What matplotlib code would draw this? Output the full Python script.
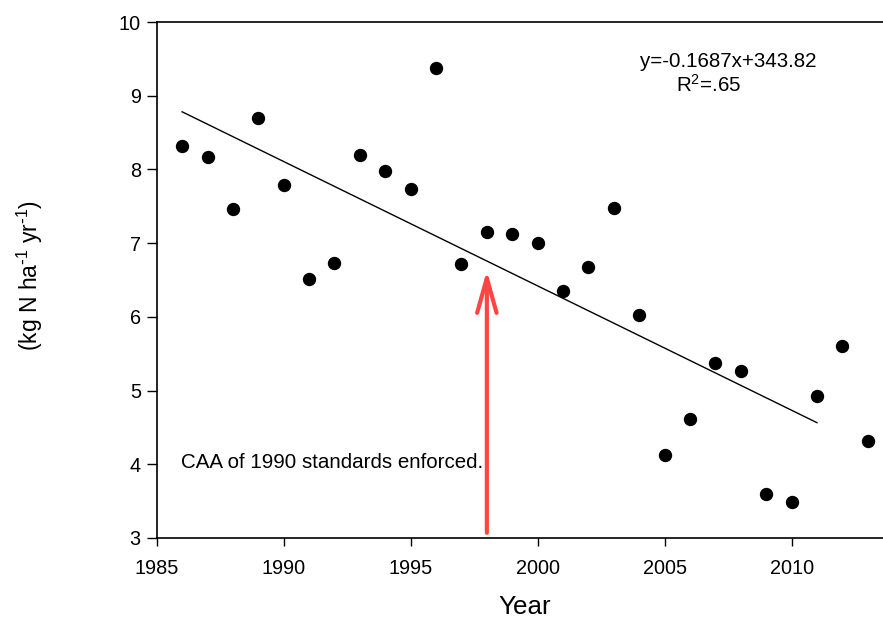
import numpy as np
import matplotlib.pyplot as plt

plt.rcParams['font.family'] = ['Liberation Sans', 'DejaVu Sans']
plt.rcParams['mathtext.default'] = 'regular'

years = np.arange(1986, 2014)
deposition = [8.32, 8.17, 7.46, 8.70, 7.79, 6.51, 6.73, 8.20, 7.98, 7.74,
              9.38, 6.72, 7.15, 7.13, 7.00, 6.35, 6.67, 7.48, 6.02, 4.12,
              4.62, 5.37, 5.26, 3.59, 3.49, 4.92, 5.61, 4.31]

# linear fit reported on the chart
slope = -0.1687
intercept = 343.82
fit_start, fit_end = 1986, 2011
enforced_year = 1998

fig = plt.figure(figsize=(8.83, 6.2), dpi=100)
ax = fig.add_axes([0.1775, 0.1323, 0.8225, 0.8322])

ax.plot(years, deposition, 'o', color='black', markersize=8.6, zorder=3)

fx = np.array([fit_start, fit_end])
ax.plot(fx, slope * fx + intercept, color='black', lw=1.0)

ax.annotate('', xy=(enforced_year, 6.63), xytext=(enforced_year, 3.07),
            arrowprops=dict(arrowstyle='->,head_length=25,head_width=7',
                            mutation_scale=1, color='#ff4444', lw=3,
                            shrinkA=0, shrinkB=0))

ax.text(1985.94, 4.03, 'CAA of 1990 standards enforced.', fontsize=14.8,
        ha='left', va='center')
ax.text(2004.03, 9.47, 'y=-0.1687x+343.82', fontsize=14.8, ha='left', va='center')
ax.text(2005.44, 9.15, 'R$^2$=.65', fontsize=14.8, ha='left', va='center')

ax.set_xlim(1985, 2013.6)
ax.set_ylim(3, 10)
ax.set_xticks([1985, 1990, 1995, 2000, 2005, 2010])
ax.set_yticks(range(3, 11))

ax.spines['right'].set_visible(False)
for s in ['left', 'bottom', 'top']:
    ax.spines[s].set_linewidth(1.2)

ax.tick_params(axis='y', direction='out', length=7, width=1, labelsize=14.3, pad=4.5)
ax.tick_params(axis='x', direction='out', length=6, width=1, labelsize=14.3, pad=9)

ax.set_xlabel('Year', fontsize=18.7, va='center')
ax.xaxis.set_label_coords(0.507, -0.134)
ax.set_ylabel(r'(kg N ha$^{\text{-}1}$ yr$^{\text{-}1}$)', fontsize=16.5, va='center')
ax.yaxis.set_label_coords(-0.1745, 0.508)

fig.savefig('out.png', dpi=100)
